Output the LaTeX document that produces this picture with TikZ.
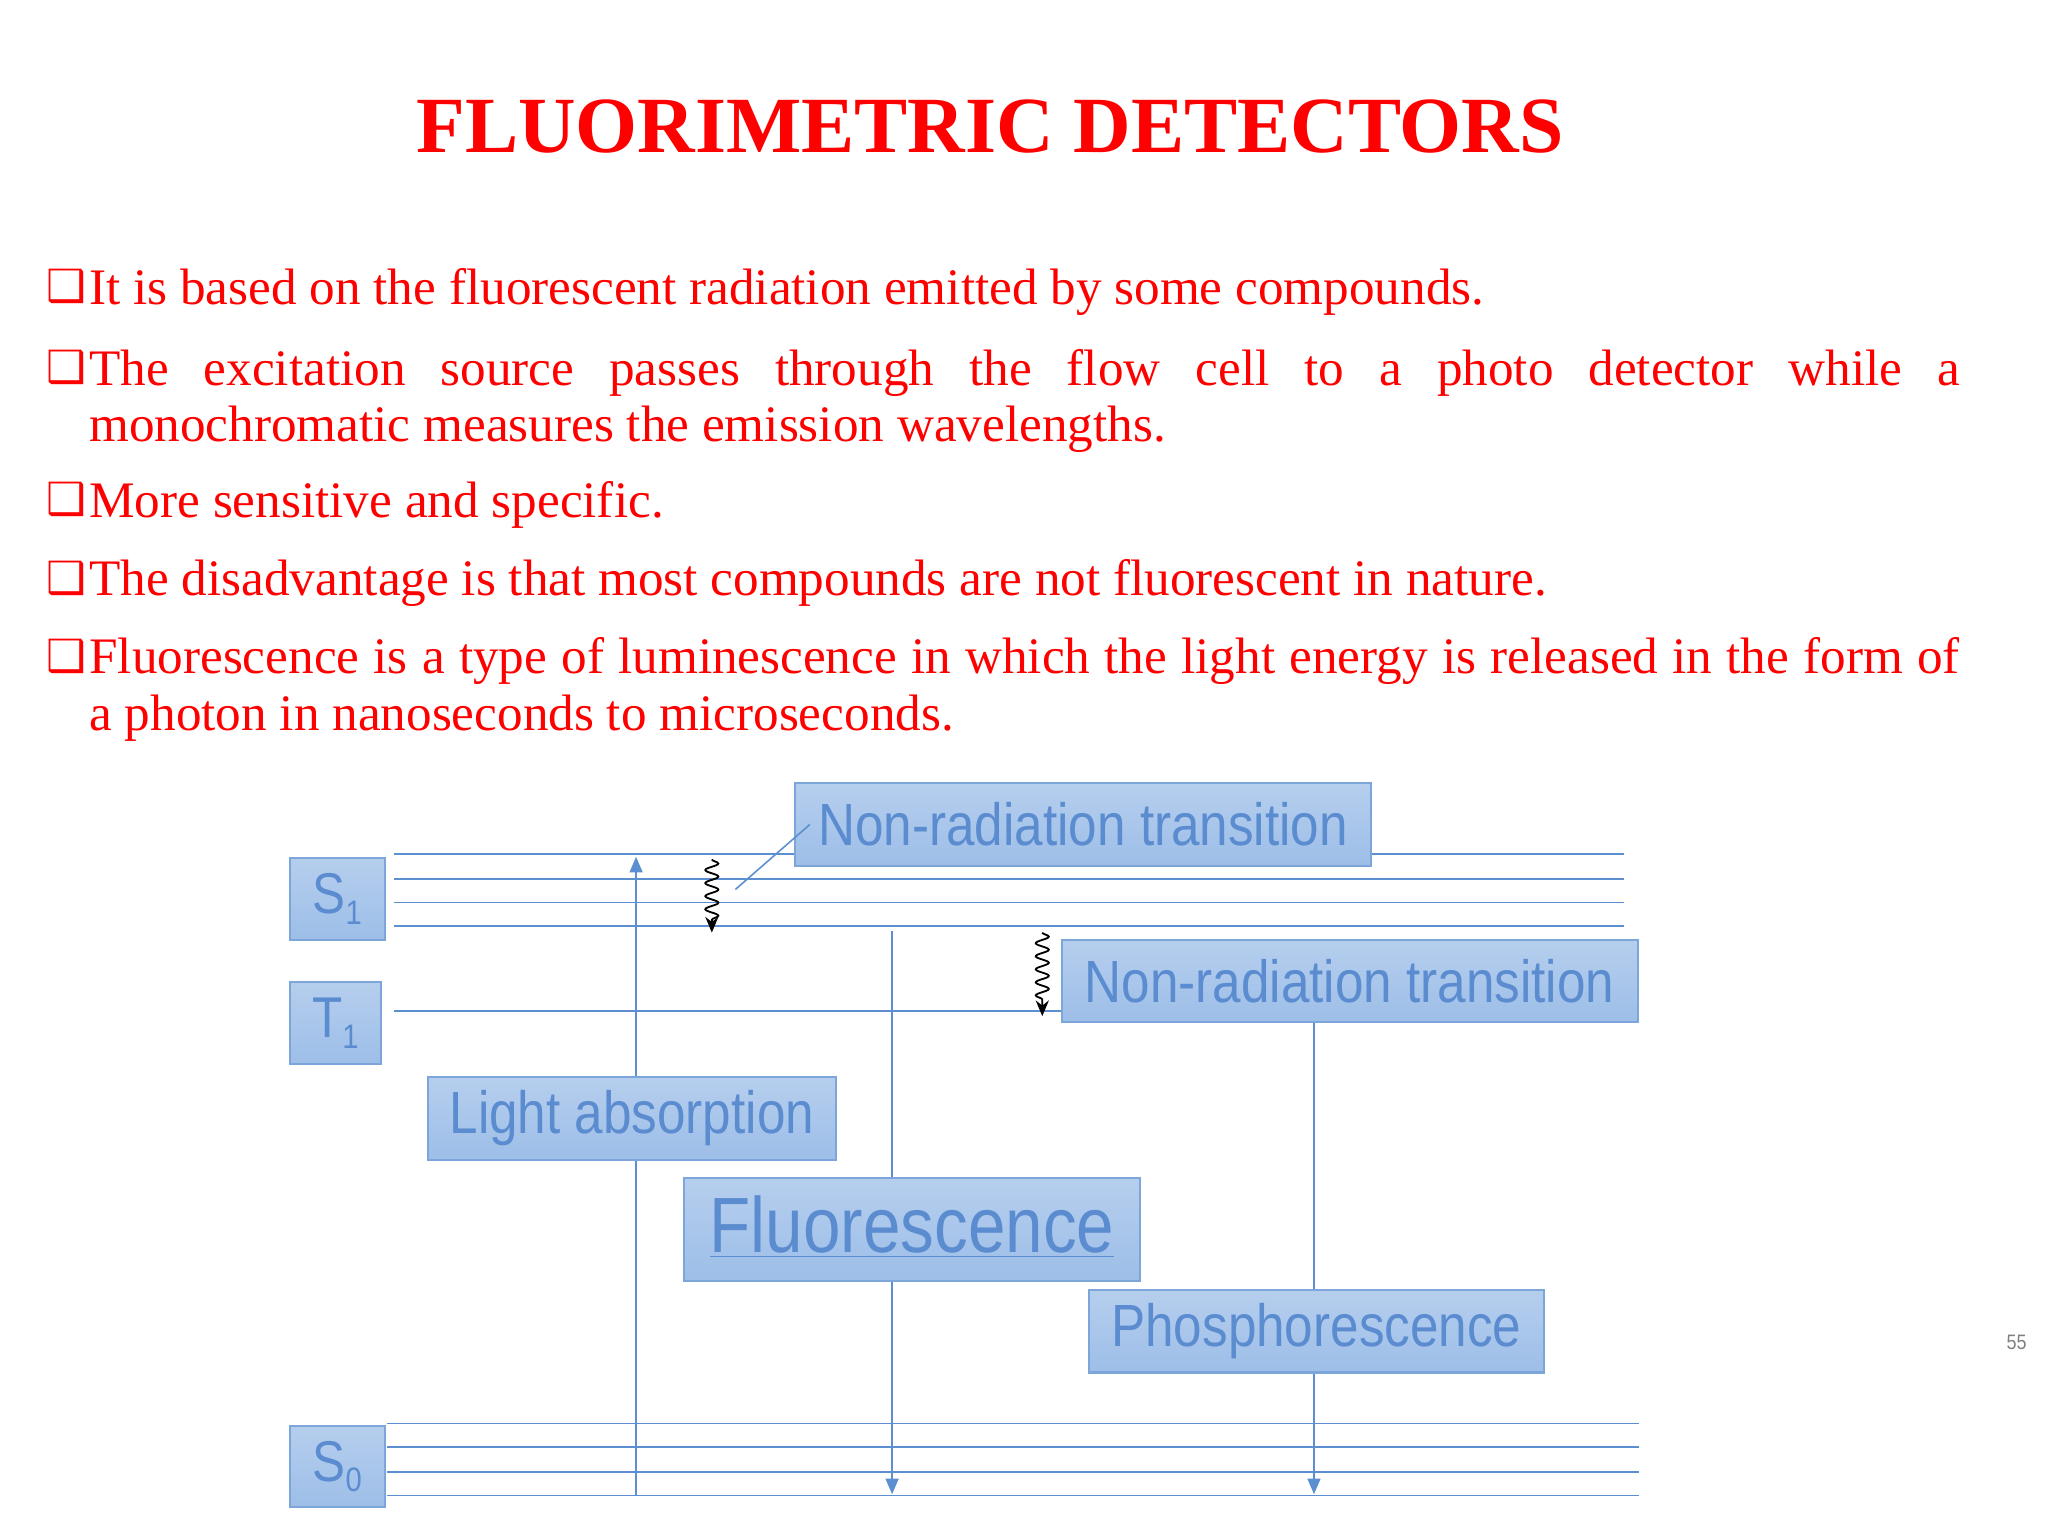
\documentclass[tikz,border=0pt]{standalone}
\usepackage{fontspec}
\setmainfont{Liberation Serif}
\newfontfamily\boxfont[FakeStretch=0.86]{Liberation Sans}
\newfontfamily\symfont{DejaVu Sans}
\usetikzlibrary{decorations.pathmorphing,arrows.meta}
\definecolor{tred}{HTML}{FF0000}
\definecolor{bline}{HTML}{5B8FD0}
\definecolor{bfill}{HTML}{9DBEE8}
\definecolor{btext}{HTML}{5A8CCF}
\newcommand{\sub}[1]{\raisebox{-4pt}{\fontsize{13}{14}\selectfont #1}}
\tikzset{
 lbox/.style={draw=bline!80,line width=0.8pt,top color=bfill!75,bottom color=bfill,anchor=north west,inner sep=0pt},
 ltext/.style={text=btext,font=\boxfont\fontsize{22.8}{25}\selectfont},
 lvl/.style={bline,line width=0.6pt},
 trans/.style={bline,line width=0.6pt,-{Triangle[length=6pt,width=5pt]}},
 wavy/.style={black,line width=0.7pt,decorate,decoration={snake,segment length=5pt,amplitude=2.5pt,post length=4pt},-{Stealth[length=6pt,width=5pt]}},
 para/.style={text=tred,font=\fontsize{19.6}{21.5}\selectfont,anchor=north west,inner sep=0pt,text width=716pt,align=justify},
 bul/.style={text=tred,font=\symfont\bfseries\fontsize{17}{18}\selectfont,anchor=north west,inner sep=0pt}
}
\begin{document}
\begin{tikzpicture}[x=0.5pt,y=-0.5pt]
\useasboundingbox (0,0) rectangle (1568,1176);
\node[text=tred,font=\bfseries\fontsize{30.5}{34}\selectfont] (title) at (758,97) {FLUORIMETRIC DETECTORS};
% bullets
\foreach \y/\n in {205/b1,267/b2,368/b3,428/b4,488/b5}{\node[bul] (\n) at (35,\y+1) {❑};}
\node[para] (p1) at (68,205) {It is based on the fluorescent radiation emitted by some compounds.};
\node[para] (p2) at (68,267) {The excitation source passes through the flow cell to a photo detector while a\linebreak monochromatic measures the emission wavelengths.};
\node[para] (p3) at (68,368) {More sensitive and specific.};
\node[para] (p4) at (68,428) {The disadvantage is that most compounds are not fluorescent in nature.};
\node[para] (p5) at (68,488) {Fluorescence is a type of luminescence in which the light energy is released in the form of\linebreak a photon in nanoseconds to microseconds.};
% level lines
\foreach \y in {654,673,691,709}{\draw[lvl] (302,\y) -- (1243,\y);}
\draw[lvl] (302,774) -- (812,774);
\foreach \y in {1090,1108,1127,1145}{\draw[lvl] (296,\y) -- (1255,\y);}
% state boxes
\node[lbox,minimum width=36.5pt,minimum height=31.5pt] (S1) at (221,656) {};
\node[ltext,font=\boxfont\fontsize{22}{24}\selectfont] at (S1.center) {S\sub{1}};
\node[lbox,minimum width=35pt,minimum height=31.5pt] (T1) at (221,751) {};
\node[ltext,font=\boxfont\fontsize{22}{24}\selectfont] at (T1.center) {T\sub{1}};
\node[lbox,minimum width=36.5pt,minimum height=31pt] (S0) at (221,1091) {};
\node[ltext,font=\boxfont\fontsize{22}{24}\selectfont] at (S0.center) {S\sub{0}};
% transitions
\coordinate (ab0) at (487,1145); \coordinate (ab1) at (487,656);
\draw[trans] (ab0) -- (ab1);
\coordinate (fl0) at (683,713); \coordinate (fl1) at (683,1144);
\draw[trans] (fl0) -- (fl1);
\coordinate (ph0) at (1006,782); \coordinate (ph1) at (1006,1144);
\draw[trans] (ph0) -- (ph1);
\coordinate (w1a) at (545,658); \coordinate (w1b) at (545,714);
\draw[wavy] (w1a) -- (w1b);
\coordinate (w2a) at (798,714); \coordinate (w2b) at (798,778);
\draw[wavy] (w2a) -- (w2b);
% label boxes
\node[lbox,minimum width=220.5pt,minimum height=31.5pt] (nr1) at (608,599) {};
\node[ltext] at (nr1.center) {Non-radiation transition};
\coordinate (lk) at (563,681);
\draw[bline,line width=0.6pt] (lk) -- ([xshift=6pt]nr1.west);
\node[lbox,minimum width=220.5pt,minimum height=31.5pt] (nr2) at (812,719) {};
\node[ltext] at (nr2.center) {Non-radiation transition};
\node[lbox,minimum width=156pt,minimum height=31.5pt] (la) at (327,824) {};
\node[ltext] at (la.center) {Light absorption};
\node[lbox,minimum width=174.5pt,minimum height=39.5pt] (fb) at (523,901) {};
\node[ltext,font=\boxfont\fontsize{30}{32}\selectfont] at ([yshift=1pt]fb.center) {\underline{Fluorescence}};
\node[lbox,minimum width=174pt,minimum height=31.5pt] (pb) at (833,987) {};
\node[ltext] at (pb.center) {Phosphorescence};
\node[text=gray,font=\boxfont\fontsize{8}{10}\selectfont] (pg) at (1544,1028) {55};
\end{tikzpicture}
\end{document}
